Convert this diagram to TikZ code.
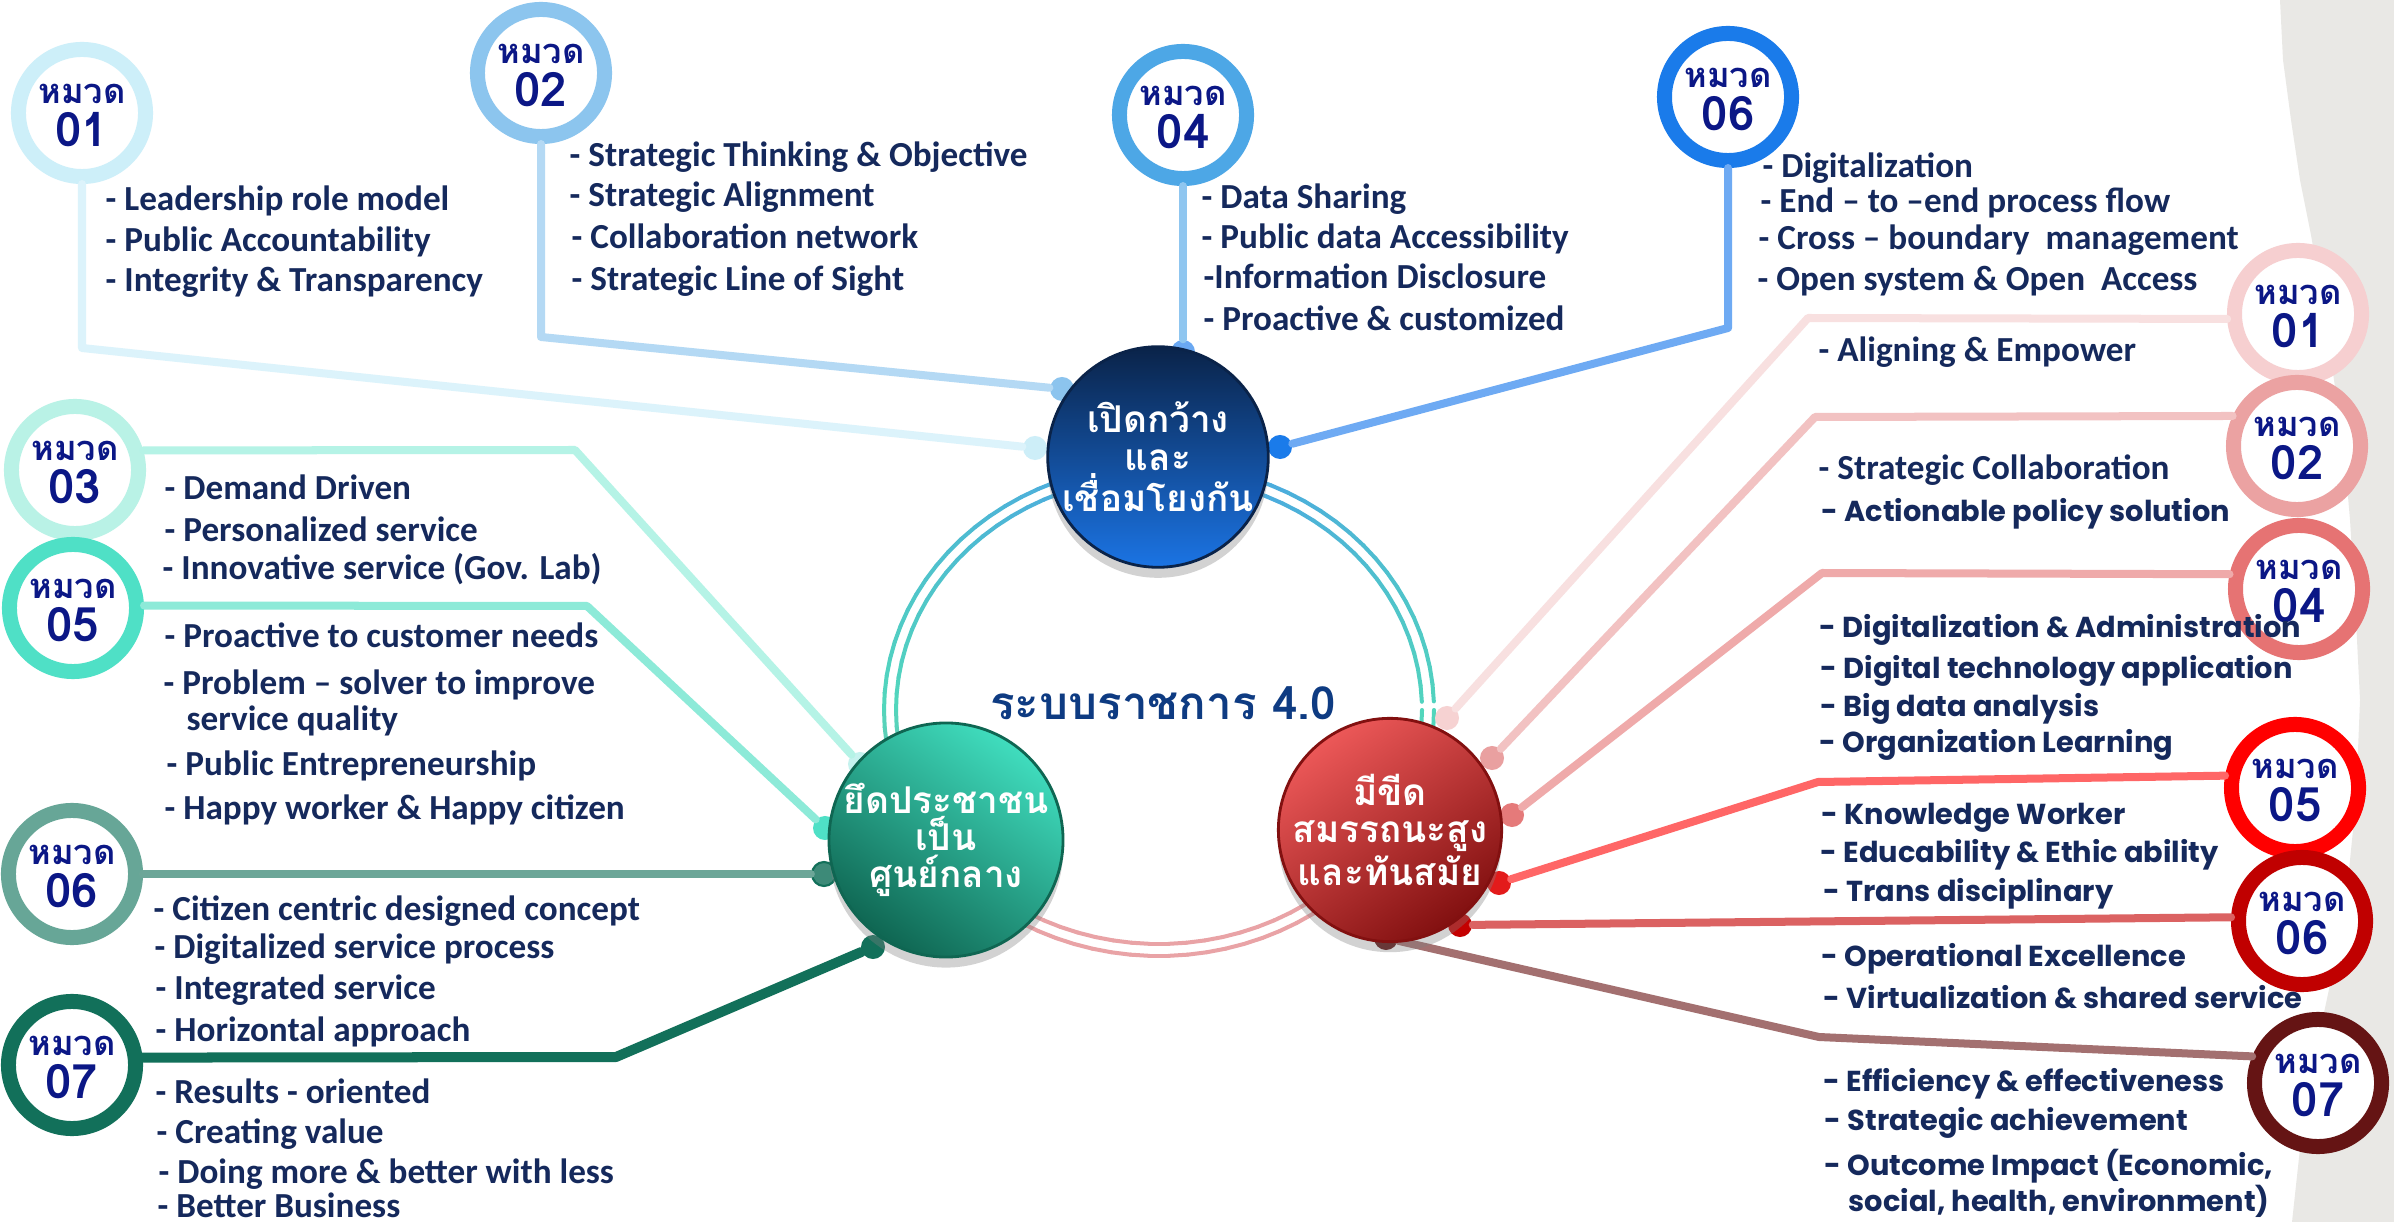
\documentclass[tikz,border=0pt]{standalone}
\usepackage{fontspec}
\setmainfont{Carlito}
\newfontfamily\thaifont[Script=Thai]{Loma}
\newfontfamily\widefont{Poppins}
\usetikzlibrary{shadows}
\definecolor{txt}{HTML}{15295C}
\definecolor{num}{HTML}{0B1786}
\definecolor{titlec}{HTML}{0E3B82}
\definecolor{paper}{HTML}{E9E8E5}
\definecolor{ringTeal}{HTML}{52D6BC}
\definecolor{ringBlue}{HTML}{4A9FE8}
\definecolor{ringPink}{HTML}{E9A3A6}
\definecolor{ringGrey}{HTML}{86B8AA}
% top-left group
\definecolor{cTLa}{HTML}{CDEFF9}\definecolor{lTLa}{HTML}{DCF3FB}\definecolor{dTLa}{HTML}{CDEEF8}
\definecolor{cTLb}{HTML}{8CC5EE}\definecolor{lTLb}{HTML}{B4D9F4}\definecolor{dTLb}{HTML}{8CC4EE}
\definecolor{cTLd}{HTML}{4DA7E6}\definecolor{lTLd}{HTML}{8FC6F0}\definecolor{dTLd}{HTML}{6AA8F2}
\definecolor{cTLf}{HTML}{1A7BEA}\definecolor{lTLf}{HTML}{6EAAF3}\definecolor{dTLf}{HTML}{1A7BEA}
% left group
\definecolor{cLc}{HTML}{B9F2E6}\definecolor{lLc}{HTML}{B5F3E6}\definecolor{dLc}{HTML}{C5F2EE}
\definecolor{cLe}{HTML}{4FE0C6}\definecolor{lLe}{HTML}{8DEAD8}\definecolor{dLe}{HTML}{4FE0C6}
\definecolor{cLf}{HTML}{67A697}\definecolor{lLf}{HTML}{6CA698}\definecolor{dLf}{HTML}{3D8A78}
\definecolor{cLg}{HTML}{12705A}\definecolor{lLg}{HTML}{12705A}\definecolor{dLg}{HTML}{12705A}
% right group
\definecolor{cRa}{HTML}{F6CFD0}\definecolor{lRa}{HTML}{F8E0E0}\definecolor{dRa}{HTML}{F6D2D2}
\definecolor{cRb}{HTML}{EBA2A2}\definecolor{lRb}{HTML}{F2C2C2}\definecolor{dRb}{HTML}{E9A0A0}
\definecolor{cRd}{HTML}{E67373}\definecolor{lRd}{HTML}{EFAAAA}\definecolor{dRd}{HTML}{E57A7A}
\definecolor{cRe}{HTML}{FF0000}\definecolor{lRe}{HTML}{FF6666}\definecolor{dRe}{HTML}{E31B1B}
\definecolor{cRf}{HTML}{C00000}\definecolor{lRf}{HTML}{DB6262}\definecolor{dRf}{HTML}{C40000}
\definecolor{cRg}{HTML}{651414}\definecolor{lRg}{HTML}{A37070}\definecolor{dRg}{HTML}{5C1010}
% centre circles
\definecolor{navyTop}{HTML}{0A2349}\definecolor{navyBot}{HTML}{1B74E4}
\definecolor{tealLight}{HTML}{40DDBE}\definecolor{tealDark}{HTML}{0F6652}
\definecolor{redLight}{HTML}{EC5858}\definecolor{redDark}{HTML}{821010}

\newcommand\Ring[4]{%
  \node[ringnode=#2] (#1) at (#3) {};
  \node[hmlbl] (#1h) at ([yshift=5.4pt]#1.center) {หมวด};
  \node[numlbl] (#1n) at ([yshift=-4.6pt]#1.center) {#4};}
\newcommand\RingSeg[2]{% angle, colour
  \draw[ringline, color=#2] (E) ++(#1:263 and 234) coordinate (a) (E) ++(#1+4:263 and 234) coordinate (b) (a) -- (b);
  \draw[ringline, color=#2] (E) ++(#1:275 and 246) coordinate (a) (E) ++(#1+4:275 and 246) coordinate (b) (a) -- (b);}

\begin{document}
\begin{tikzpicture}[x=0.01cm,y=-0.01cm,
  ringnode/.style={circle, draw=#1, line width=0.15cm, fill=white, minimum size=1.27cm, inner sep=0pt},
  hmlbl/.style={inner sep=0pt, text=num, font=\thaifont\bfseries\fontsize{9.8}{10}\selectfont},
  numlbl/.style={inner sep=0pt, text=num, font=\thaifont\bfseries\fontsize{13.5}{13.5}\selectfont},
  dotnode/.style={circle, fill=#1, minimum size=0.24cm, inner sep=0pt},
  conn/.style={draw=#1, line width=0.08cm, line cap=round, line join=round},
  itm/.style={anchor=mid west, inner sep=0pt, text=txt, font=\bfseries\fontsize{10}{12}\selectfont},
  witm/.style={anchor=mid west, inner sep=0pt, text=txt, font=\widefont\bfseries\fontsize{8.2}{10}\selectfont},
  ringline/.style={line width=0.04cm, line cap=round},
  hub/.style={circle, minimum size=1.9cm, inner sep=0pt, align=center, text=white,
     font=\thaifont\bfseries\fontsize{10.5}{10.6}\selectfont,
     drop shadow={shadow xshift=0pt, shadow yshift=-3pt, opacity=0.35}}
]
\useasboundingbox (0,0) rectangle (2394,1222);
\clip (0,0) rectangle (2394,1222);
\fill[white] (0,0) rectangle (2394,1222);
% torn paper strip
\fill[paper] (2280,0) -- (2283,60) -- (2291,120) -- (2300,180) -- (2311,235) -- (2322,300)
  -- (2334,380) -- (2344,450) -- (2350,520) -- (2355,600) -- (2360,700) -- (2356,800)
  -- (2346,900) -- (2331,980) -- (2316,1050) -- (2302,1130) -- (2292,1222) -- (2394,1222) -- (2394,0) -- cycle;

% big double ring
\coordinate (E) at (1159,710);
\foreach \t in {270,274,...,356} {\pgfmathtruncatemacro\p{100*(\t-270)/90}\RingSeg{\t}{ringTeal!\p!ringBlue}}
\foreach \t in {0,4,...,36} {\pgfmathtruncatemacro\p{100*\t/40}\RingSeg{\t}{ringGrey!\p!ringTeal}}
\foreach \t in {40,44,...,136} {\RingSeg{\t}{ringPink}}
\foreach \t in {140,144,...,176} {\pgfmathtruncatemacro\p{100*(\t-140)/40}\RingSeg{\t}{ringTeal!\p!ringGrey}}
\foreach \t in {180,184,...,266} {\pgfmathtruncatemacro\p{100*(\t-180)/90}\RingSeg{\t}{ringBlue!\p!ringTeal}}

% badges
\Ring{tla}{cTLa}{82,113}{01}
\Ring{tlb}{cTLb}{541,73}{02}
\Ring{tld}{cTLd}{1183,115}{04}
\Ring{tlf}{cTLf}{1728,97}{06}
\Ring{lc}{cLc}{75,470}{03}
\Ring{le}{cLe}{73,608}{05}
\Ring{lf}{cLf}{72,874}{06}
\Ring{lg}{cLg}{72,1065}{07}
\Ring{ra}{cRa}{2298,314}{01}
\Ring{rb}{cRb}{2297,446}{02}
\Ring{rd}{cRd}{2299,589}{04}
\Ring{re}{cRe}{2295,788}{05}
\Ring{rf}{cRf}{2302,921}{06}
\Ring{rg}{cRg}{2318,1083}{07}

% dots
\node[dotnode=dTLa] (dtla) at (1035,448) {};
\node[dotnode=dTLb] (dtlb) at (1062,389) {};
\node[dotnode=dTLd] (dtld) at (1183,352) {};
\node[dotnode=dTLf] (dtlf) at (1280,447) {};
\node[dotnode=dLc] (dlc) at (860,764) {};
\node[dotnode=dLe] (dle) at (825,828) {};
\node[dotnode=dLf, draw=lLg, line width=0.6pt] (dlf) at (824,874) {};
\node[dotnode=dLg] (dlg) at (873,947) {};
\node[dotnode=dRa] (dra) at (1447,718) {};
\node[dotnode=dRb] (drb) at (1492,758) {};
\node[dotnode=dRd] (drd) at (1512,815) {};
\node[dotnode=dRe] (dre) at (1499,883) {};
\node[dotnode=dRf] (drf) at (1460,925) {};
\node[dotnode=dRg] (drg) at (1386,938) {};

% bends
\coordinate (ktla) at (82,348);
\coordinate (ktlb) at (541,337);
\coordinate (ktlf) at (1728,328);
\coordinate (klc) at (575,450);
\coordinate (kle) at (587,606);
\coordinate (klg) at (616,1057);
\coordinate (kra) at (1808,318);
\coordinate (krb) at (1815,417);
\coordinate (krd) at (1822,573);
\coordinate (kre) at (1818,782);
\coordinate (krg) at (1819,1037);

% connectors
\draw[conn=lTLa] (tla.south) -- (ktla) -- (dtla);
\draw[conn=lTLb] (tlb.south) -- (ktlb) -- (dtlb);
\draw[conn=lTLd] (tld.south) -- (dtld);
\draw[conn=lTLf] (tlf.south) -- (ktlf) -- (dtlf);
\draw[conn=lLc] (lc.16) -- (klc) -- (dlc);
\draw[conn=lLe] (le.2) -- (kle) -- (dle);
\draw[conn=lLf] (lf.east) -- (dlf);
\draw[conn=lLg, line width=0.1cm] (lg.6) -- (klg) -- (dlg);
\draw[conn=lRa] (dra) -- (kra) -- (ra.184);
\draw[conn=lRb] (drb) -- (krb) -- (rb.155);
\draw[conn=lRd] (drd) -- (krd) -- (rd.168);
\draw[conn=lRe] (dre) -- (kre) -- (re.170);
\draw[conn=lRf] (drf) -- (rf.177);
\draw[conn=lRg] (drg) -- (krg) -- (rg.158);

% hubs
\node[hub, top color=navyTop, bottom color=navyBot, draw=navyTop, line width=0.8pt] (hubtop) at (1158,457)
  {เปิดกว้าง\\และ\\เชื่อมโยงกัน};
\node[hub, top color=tealLight, bottom color=tealDark, shading angle=-35, draw=tealDark, line width=0.8pt] (hubleft) at (946,840)
  {ยึดประชาชน\\เป็น\\ศูนย์กลาง};
\node[hub, top color=redLight, bottom color=redDark, shading angle=35, draw=redDark, line width=0.8pt] (hubright) at (1390,830)
  {มีขีด\\สมรรถนะสูง\\และทันสมัย};
\node[text=titlec, font=\thaifont\bfseries\fontsize{13}{13}\selectfont] (title) at (1163,703) {ระบบราชการ 4.0};

% texts top-left
\node[itm] (t1) at (105,202) {- Leadership role model};
\node[itm] (t2) at (105,243) {- Public Accountability};
\node[itm] (t3) at (105,283) {- Integrity \& Transparency};
\node[itm] (t4) at (569,158) {- Strategic Thinking \& Objective};
\node[itm] (t5) at (569,198) {- Strategic Alignment};
\node[itm] (t6) at (571,240) {- Collaboration network};
\node[itm] (t7) at (571,282) {- Strategic Line of Sight};
\node[itm] (t8) at (1201,200) {- Data Sharing};
\node[itm] (t9) at (1201,240) {- Public data Accessibility};
\node[itm] (t10) at (1203,280) {-Information Disclosure};
\node[itm] (t11) at (1203,322) {- Proactive \& customized};
\node[itm] (t12) at (1762,169) {- Digitalization};
\node[itm] (t13) at (1760,204) {- End – to –end process flow};
\node[itm] (t14) at (1758,241) {- Cross – boundary\ \ management};
\node[itm] (t15) at (1757,282) {- Open system \& Open\ \ Access};
% texts left
\node[itm] (t16) at (164,491) {- Demand Driven};
\node[itm] (t17) at (164,533) {- Personalized service};
\node[itm] (t18) at (162,571) {- Innovative service (Gov. Lab)};
\node[itm] (t19) at (164,639) {- Proactive to customer needs};
\node[itm] (t20) at (163,686) {- Problem – solver to improve};
\node[itm] (t21) at (186,722) {service quality};
\node[itm] (t22) at (166,767) {- Public Entrepreneurship};
\node[itm] (t23) at (164,811) {- Happy worker \& Happy citizen};
\node[itm] (t24) at (153,912) {- Citizen centric designed concept};
\node[itm] (t25) at (154,950) {- Digitalized service process};
\node[itm] (t26) at (155,991) {- Integrated service};
\node[itm] (t27) at (155,1033) {- Horizontal approach};
\node[itm] (t28) at (155,1095) {- Results - oriented};
\node[itm] (t29) at (156,1135) {- Creating value};
\node[itm] (t30) at (158,1175) {- Doing more \& better with less};
\node[itm] (t31) at (157,1209) {- Better Business};
% texts right
\node[itm] (t32) at (1818,353) {- Aligning \& Empower};
\node[itm] (t33) at (1818,471) {- Strategic Collaboration};
\node[witm] (t34) at (1821,513) {- Actionable policy solution};
\node[witm] (t35) at (1819,629) {- Digitalization \& Administration};
\node[witm] (t36) at (1820,670) {- Digital technology application};
\node[witm] (t37) at (1820,708) {- Big data analysis};
\node[witm] (t38) at (1819,744) {- Organization Learning};
\node[witm] (t39) at (1821,816) {- Knowledge Worker};
\node[witm] (t40) at (1820,854) {- Educability \& Ethic ability};
\node[witm] (t41) at (1823,893) {- Trans disciplinary};
\node[witm] (t42) at (1821,958) {- Operational Excellence};
\node[witm] (t43) at (1823,1000) {- Virtualization \& shared service};
\node[witm] (t44) at (1823,1083) {- Efficiency \& effectiveness};
\node[witm] (t45) at (1824,1122) {- Strategic achievement};
\node[witm] (t46) at (1824,1167) {- Outcome Impact (Economic,};
\node[witm] (t47) at (1848,1203) {social, health, environment)};
\end{tikzpicture}
\end{document}
